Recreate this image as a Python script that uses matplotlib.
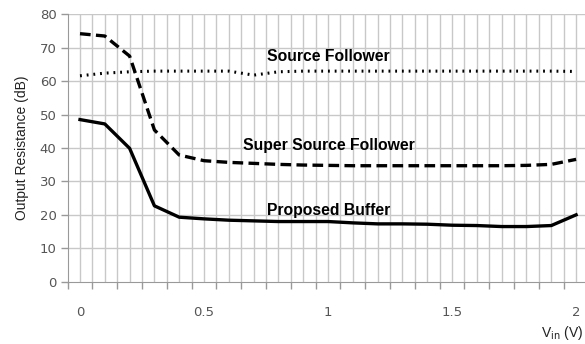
import matplotlib
matplotlib.use('Agg')
import matplotlib.pyplot as plt
import numpy as np

# Vin categories (V)
vin = [0.0, 0.1, 0.2, 0.3, 0.4, 0.5, 0.6, 0.7, 0.8, 0.9, 1.0,
       1.1, 1.2, 1.3, 1.4, 1.5, 1.6, 1.7, 1.8, 1.9, 2.0]

source_follower = [61.6, 62.4, 62.8, 63.0, 63.0, 63.0, 63.0, 61.8, 62.8, 63.0, 63.0,
                   63.0, 63.0, 63.0, 63.0, 63.0, 63.0, 63.0, 63.0, 63.0, 62.9]
super_source_follower = [74.2, 73.5, 67.5, 45.4, 37.9, 36.2, 35.7, 35.4, 35.1, 34.9, 34.8,
                         34.7, 34.7, 34.7, 34.7, 34.7, 34.7, 34.7, 34.8, 35.1, 36.6]
proposed_buffer = [48.5, 47.2, 39.9, 22.7, 19.3, 18.8, 18.4, 18.2, 18.0, 18.0, 18.0,
                   17.6, 17.3, 17.3, 17.2, 16.9, 16.8, 16.5, 16.5, 16.8, 20.0]

x_labels = ['0', '0.5', '1', '1.5', '2']
y_ticks = [0, 10, 20, 30, 40, 50, 60, 70, 80]

fig = plt.figure(figsize=(5.85, 3.44), dpi=100)
ax = fig.add_axes([67.6 / 585, 1 - 281.7 / 344, (588.5 - 67.6) / 585, (281.7 - 14.3) / 344])

# gridlines every half category (Excel-style category axis)
grid_x = np.arange(-0.05, 2.06, 0.05)
for gx in grid_x[1:]:
    ax.axvline(gx, color='#c8c8c8', lw=1.0, zorder=0)
for gy in y_ticks[1:]:
    ax.axhline(gy, color='#c8c8c8', lw=1.0, zorder=0)

ax.plot(vin, source_follower, color='black', lw=2.2, ls=(0, (0.6, 1.6)), dash_capstyle='butt', zorder=3)
ax.plot(vin, super_source_follower, color='black', lw=2.4, ls=(0, (3.2, 1.6)), zorder=3)
ax.plot(vin, proposed_buffer, color='black', lw=2.4, zorder=3)

ax.set_xlim(-0.05, 2.05)
ax.set_ylim(0, 80)

# ticks at category boundaries, labels under categories
ax.set_xticks(np.arange(-0.05, 2.06, 0.1))
ax.set_xticklabels([])
ax.tick_params(axis='x', length=5, color='#999999', width=1)
for i, lab in enumerate(x_labels):
    ax.text(vin[i * 5], -0.115, lab, transform=ax.get_xaxis_transform(),
            ha='center', va='center', fontsize=9.5, color='#555555')

ax.set_yticks(y_ticks)
ax.set_yticklabels([str(v) for v in y_ticks], fontsize=9.5, color='#555555')
ax.tick_params(axis='y', length=5, color='#999999', width=1, pad=3)

for side in ['top', 'right']:
    ax.spines[side].set_visible(False)
ax.spines['left'].set_color('#999999')
ax.spines['bottom'].set_color('#999999')

ax.set_ylabel('Output Resistance (dB)', fontsize=10, family='Liberation Sans', color='#222222', labelpad=8)

ax.text(0.754, 67.3, 'Source Follower', fontsize=11.3, fontweight='bold', family='Liberation Sans', ha='left', va='center')
ax.text(0.657, 40.6, 'Super Source Follower', fontsize=11.3, fontweight='bold', family='Liberation Sans', ha='left', va='center')
ax.text(0.754, 21.4, 'Proposed Buffer', fontsize=11.3, fontweight='bold', family='Liberation Sans', ha='left', va='center')

fig.text(583 / 585, 1 - 333 / 344, r'V$_{\mathrm{in}}$ (V)', fontsize=10, family='Liberation Sans',
         ha='right', va='center', color='#222222')

fig.savefig('out.png', dpi=100)
